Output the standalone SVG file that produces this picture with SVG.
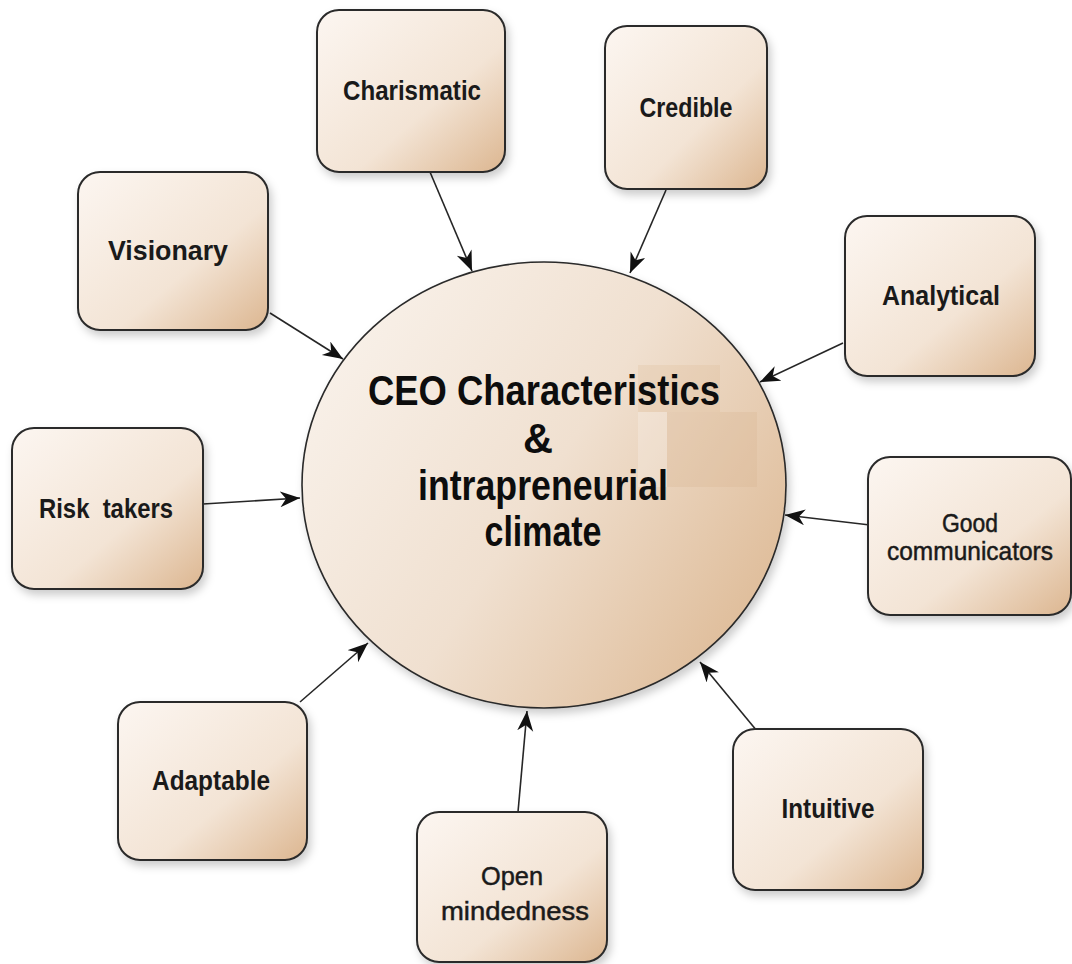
<svg xmlns="http://www.w3.org/2000/svg" width="1072" height="964" viewBox="0 0 1072 964">
<style>
.box{fill:url(#boxGrad);stroke:#2a2a2a;stroke-width:2;filter:url(#shadow)}
.lbl{font-family:"Liberation Sans",Arial,sans-serif;font-weight:bold;font-size:28px;fill:#1a1a1a;text-anchor:middle}
.lbln{font-family:"Liberation Sans",Arial,sans-serif;font-weight:normal;font-size:26px;fill:#1a1a1a;stroke:#1a1a1a;stroke-width:0.5;text-anchor:middle}
.big{font-family:"Liberation Sans",Arial,sans-serif;font-weight:bold;font-size:42px;fill:#0d0d0d;text-anchor:middle}
.conn{stroke:#262626;stroke-width:1.6;fill:none;marker-end:url(#arrow)}
</style>
<defs>
<linearGradient id="boxGrad" x1="0" y1="0" x2="1" y2="1">
<stop offset="0" stop-color="#fcf6f1"/>
<stop offset="0.6" stop-color="#f3e4d5"/>
<stop offset="1" stop-color="#dcb690"/>
</linearGradient>
<linearGradient id="circGrad" x1="0" y1="0.2" x2="1" y2="0.8">
<stop offset="0" stop-color="#f9f2eb"/>
<stop offset="0.5" stop-color="#f0e0d0"/>
<stop offset="1" stop-color="#ddb994"/>
</linearGradient>
<filter id="shadow" x="-10%" y="-10%" width="130%" height="130%">
<feDropShadow dx="3" dy="5" stdDeviation="4" flood-color="#000" flood-opacity="0.2"/>
</filter>
<marker id="arrow" markerUnits="userSpaceOnUse" markerWidth="22" markerHeight="18" refX="20" refY="8" orient="auto">
<path d="M0,0 L20,8 L0,16 L6,8 z" fill="#111"/>
</marker>
<clipPath id="circClip"><ellipse cx="544" cy="485" rx="242" ry="223"/></clipPath>
</defs>
<rect width="1072" height="964" fill="#ffffff"/>

<g id="center">
<ellipse cx="544" cy="485" rx="242" ry="223" fill="url(#circGrad)" stroke="#2a2a2a" stroke-width="1.6" filter="url(#shadow)"/>
<g clip-path="url(#circClip)">
<rect x="638" y="365" width="82" height="47" fill="#d9b48e" opacity="0.22"/>
<rect x="667" y="412" width="90" height="75" fill="#d9b48e" opacity="0.28"/>
<rect x="638" y="412" width="29" height="75" fill="#ffffff" opacity="0.22"/>
</g>
<text class="big" x="544" y="405" textLength="352" lengthAdjust="spacingAndGlyphs">CEO Characteristics</text>
<text class="big" x="538" y="453" textLength="30" lengthAdjust="spacingAndGlyphs">&amp;</text>
<text class="big" x="543" y="500" textLength="250" lengthAdjust="spacingAndGlyphs">intrapreneurial</text>
<text class="big" x="543" y="546" textLength="117" lengthAdjust="spacingAndGlyphs">climate</text>
</g>

<g id="connectors">
<line class="conn" x1="430" y1="172" x2="472" y2="271"/>
<line class="conn" x1="666" y1="190" x2="630" y2="273"/>
<line class="conn" x1="270" y1="313" x2="343" y2="359"/>
<line class="conn" x1="843" y1="343" x2="760" y2="382"/>
<line class="conn" x1="203" y1="504" x2="300" y2="498"/>
<line class="conn" x1="870" y1="525" x2="785" y2="515"/>
<line class="conn" x1="300" y1="702" x2="368" y2="643"/>
<line class="conn" x1="518" y1="812" x2="527" y2="711"/>
<line class="conn" x1="757" y1="731" x2="700" y2="662"/>
</g>

<g id="charismatic">
<rect class="box" x="317" y="10" width="188" height="162" rx="22"/>
<text class="lbl" x="412" y="100" textLength="138" lengthAdjust="spacingAndGlyphs">Charismatic</text>
</g>
<g id="credible">
<rect class="box" x="605" y="26" width="162" height="163" rx="22"/>
<text class="lbl" x="686" y="117" textLength="93" lengthAdjust="spacingAndGlyphs">Credible</text>
</g>
<g id="visionary">
<rect class="box" x="78" y="172" width="190" height="158" rx="22"/>
<text class="lbl" x="168" y="260" textLength="120" lengthAdjust="spacingAndGlyphs">Visionary</text>
</g>
<g id="analytical">
<rect class="box" x="845" y="216" width="190" height="160" rx="22"/>
<text class="lbl" x="941" y="305" textLength="118" lengthAdjust="spacingAndGlyphs">Analytical</text>
</g>
<g id="risk-takers">
<rect class="box" x="12" y="428" width="191" height="161" rx="22"/>
<text class="lbl" x="106" y="518" textLength="134" lengthAdjust="spacingAndGlyphs" xml:space="preserve">Risk  takers</text>
</g>
<g id="good-communicators">
<rect class="box" x="868" y="457" width="203" height="158" rx="22"/>
<text class="lbln" x="970" y="532" textLength="56" lengthAdjust="spacingAndGlyphs">Good</text>
<text class="lbln" x="970" y="560" textLength="166" lengthAdjust="spacingAndGlyphs">communicators</text>
</g>
<g id="adaptable">
<rect class="box" x="118" y="702" width="189" height="158" rx="22"/>
<text class="lbl" x="211" y="790" textLength="118" lengthAdjust="spacingAndGlyphs">Adaptable</text>
</g>
<g id="open-mindedness">
<rect class="box" x="417" y="812" width="190" height="150" rx="22"/>
<text class="lbln" x="512" y="885" textLength="62" lengthAdjust="spacingAndGlyphs">Open</text>
<text class="lbln" x="515" y="920" textLength="148" lengthAdjust="spacingAndGlyphs">mindedness</text>
</g>
<g id="intuitive">
<rect class="box" x="733" y="729" width="190" height="161" rx="22"/>
<text class="lbl" x="828" y="818" textLength="93" lengthAdjust="spacingAndGlyphs">Intuitive</text>
</g>
</svg>
